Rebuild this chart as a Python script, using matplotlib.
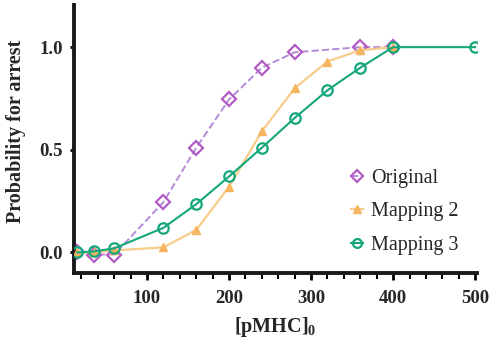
import matplotlib
matplotlib.use("Agg")
import matplotlib.pyplot as plt
from matplotlib.ticker import MultipleLocator

x_orig = [15, 35, 60, 120, 160, 200, 240, 280, 360, 400]
y_orig = [0.0, -0.01, -0.01, 0.245, 0.51, 0.745, 0.90, 0.975, 1.0, 1.0]

x_map2 = [15, 35, 60, 120, 160, 200, 240, 280, 320, 360, 400]
y_map2 = [0.0, 0.0, 0.01, 0.025, 0.11, 0.32, 0.59, 0.80, 0.93, 0.985, 1.0]

x_map3 = [15, 35, 60, 120, 160, 200, 240, 280, 320, 360, 400, 500]
y_map3 = [0.0, 0.005, 0.02, 0.12, 0.235, 0.37, 0.51, 0.655, 0.79, 0.90, 1.0, 1.0]

labels = ["Original", "Mapping 2", "Mapping 3"]

plt.rcParams['font.family'] = ['Liberation Serif', 'DejaVu Serif']
plt.rcParams['mathtext.fontset'] = 'custom'
plt.rcParams['mathtext.bf'] = 'Liberation Serif:bold'
plt.rcParams['mathtext.rm'] = 'Liberation Serif'

txt = '#262626'

fig = plt.figure(figsize=(4.9, 3.48), dpi=100)
ax = fig.add_axes([0.151, 0.2155, 0.822, 0.77])

ax.plot(x_orig, y_orig, linestyle='--', color='#b58ad8', lw=1.4,
        marker='D', markersize=7, markerfacecolor='none',
        markeredgecolor='#b15cc4', markeredgewidth=1.6, label=labels[0], zorder=2)
ax.plot(x_map2, y_map2, linestyle='-', color='#f8cc8a', lw=1.6,
        marker='^', markersize=6, markerfacecolor='#f5b460',
        markeredgecolor='#f5b460', label=labels[1], zorder=3)
ax.plot(x_map3, y_map3, linestyle='-', color='#14a77c', lw=1.5,
        marker='o', markersize=7.5, markerfacecolor='none',
        markeredgecolor='#14a77c', markeredgewidth=1.6, label=labels[2], zorder=4)

ax.set_xlim(11, 502)
ax.set_ylim(-0.1, 1.205)
ax.set_xticks([100, 200, 300, 400, 500])
ax.xaxis.set_minor_locator(MultipleLocator(20))
ax.set_yticks([0.0, 0.5, 1.0])
ax.set_yticklabels(['0.0', '0.5', '1.0'])

for s in ['top', 'right']:
    ax.spines[s].set_visible(False)
for s in ['left', 'bottom']:
    ax.spines[s].set_linewidth(2.8)
    ax.spines[s].set_color('#1a1a1a')

ax.tick_params(axis='x', which='major', length=5, width=2, direction='out', labelsize=13.5, pad=7)
ax.tick_params(axis='x', which='minor', length=4, width=1.5, direction='out')
ax.tick_params(axis='y', which='major', length=3, width=2, direction='out', labelsize=13.5, pad=5)
for lbl in ax.get_xticklabels() + ax.get_yticklabels():
    lbl.set_fontweight('bold')
    lbl.set_color(txt)

ax.set_ylabel('Probability for arrest', fontsize=14.5, fontweight='bold', color=txt)
ax.yaxis.set_label_coords(-0.12, 0.53)
ax.set_xlabel('[pMHC]$_\\mathbf{0}$', fontsize=14.5, fontweight='bold', color=txt, labelpad=6)

leg = ax.legend(loc='lower right', bbox_to_anchor=(1.0, 0.0), frameon=False,
                fontsize=14.5, handlelength=0.6, handletextpad=0.4, labelspacing=0.72,
                markerscale=0.85)
for t in leg.get_texts():
    t.set_color(txt)

fig.savefig('out.png', dpi=100)
